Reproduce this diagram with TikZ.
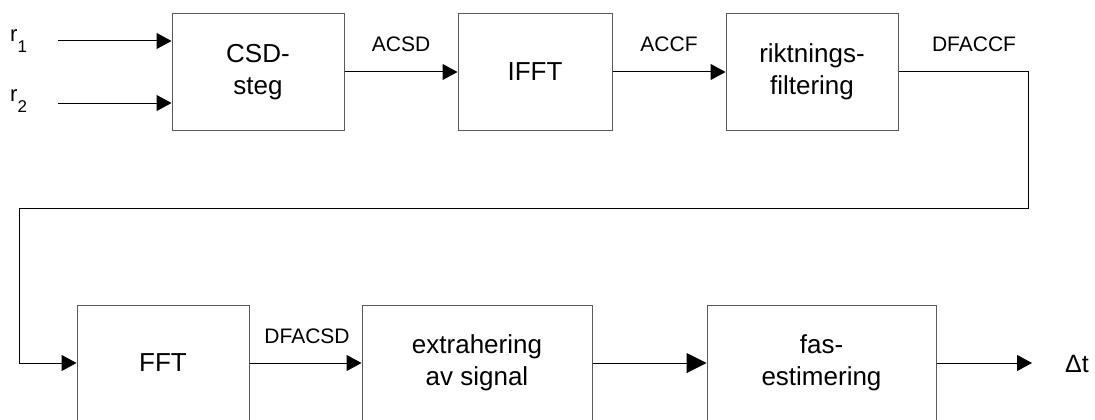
\documentclass[tikz,border=0pt]{standalone}
\usepackage{fontspec}
\setmainfont{Liberation Sans}
\usetikzlibrary{arrows.meta}
\begin{document}
\begin{tikzpicture}[x=1pt,y=-1pt,
 blk/.style={draw=black!65, line width=1pt, inner sep=0pt, align=center, font=\fontsize{26}{32}\selectfont},
 conn/.style={draw=black, line width=1pt, -{Triangle[length=15pt,width=16pt]}},
 bigconn/.style={draw=black, line width=1pt, -{Triangle[length=20pt,width=20pt]}},
 lbl/.style={font=\fontsize{21}{24}\selectfont, anchor=base, inner sep=0pt},
 inl/.style={font=\fontsize{22}{26}\selectfont, anchor=base west, inner sep=0pt}]
\useasboundingbox (0,0) rectangle (1095,420);
\clip (0,0) rectangle (1095,420);
% boxes
\node[blk, minimum width=172pt, minimum height=116pt] (csd) at (258,72) {CSD-\\steg};
\node[blk, minimum width=154pt, minimum height=116pt] (ifft) at (535,72) {IFFT};
\node[blk, minimum width=172pt, minimum height=116pt] (rik) at (812,72) {riktnings-\\filtering};
\node[blk, minimum width=172pt, minimum height=116pt] (fft) at (163,363) {FFT};
\node[blk, minimum width=230pt, minimum height=116pt] (ext) at (477,363) {extrahering\\av signal};
\node[blk, minimum width=229pt, minimum height=116pt] (fas) at (821.5,363) {fas-\\estimering};
% inputs
\coordinate (in1) at (58,41);
\coordinate (in2) at (58,103);
\node[inl] (r1) at (10,42) {r\raisebox{-10pt}{\fontsize{17}{17}\selectfont 1}};
\node[inl] (r2) at (10,102) {r\raisebox{-10pt}{\fontsize{17}{17}\selectfont 2}};
\draw[conn] (in1) -- (in1 -| csd.west);
\draw[conn] (in2) -- (in2 -| csd.west);
% connectors
\draw[conn] (csd.east) -- (ifft.west);
\draw[conn] (ifft.east) -- (rik.west);
\coordinate (c1) at (1028,208);
\coordinate (c2) at (19,208);
\draw[conn] (rik.east) -| (c1) -- (c2) |- (fft.west);
\draw[conn] (fft.east) -- (ext.west);
\draw[bigconn] (ext.east) -- (fas.west);
\coordinate (out) at (1032,363);
\draw[conn] (fas.east) -- (out);
% labels
\node[lbl] (l1) at (401,52) {ACSD};
\node[lbl] (l2) at (669,52) {ACCF};
\node[lbl] (l3) at (974,52) {DFACCF};
\node[lbl] (l4) at (307,343) {DFACSD};
\node[inl, font=\fontsize{25}{28}\selectfont] (dt) at (1065,372) {Δt};
\end{tikzpicture}
\end{document}
